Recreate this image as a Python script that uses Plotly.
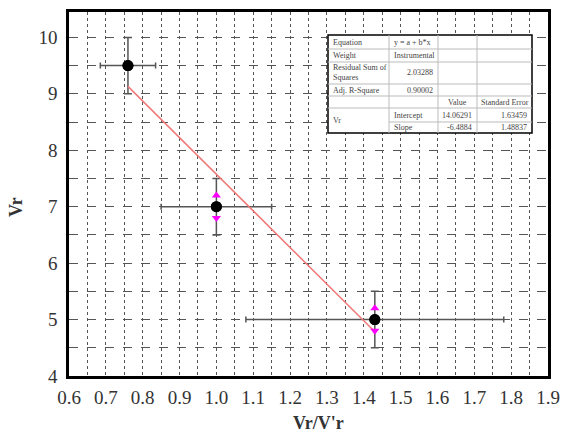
import plotly.graph_objects as go

# ---- data ----
x_vals = [0.76, 1.00, 1.43]
y_vals = [9.5, 7.0, 5.0]
x_err = [0.075, 0.15, 0.35]
y_err = [0.5, 0.5, 0.5]

intercept = 14.06291
slope = -6.4884
fit_x = [0.76, 1.43]

arrow_up_x = [1.00, 1.43]
arrow_up_y = [7.2, 5.2]
arrow_dn_x = [1.00, 1.43]
arrow_dn_y = [6.8, 4.8]

x_ticks = [0.6, 0.7, 0.8, 0.9, 1.0, 1.1, 1.2, 1.3, 1.4, 1.5, 1.6, 1.7, 1.8, 1.9]
y_ticks = [4, 5, 6, 7, 8, 9, 10]

table_rows = [
    ["Equation", "y = a + b*x", "", ""],
    ["Weight", "Instrumental", "", ""],
    ["Residual Sum of<br>Squares", "2.03288", "", ""],
    ["Adj. R-Square", "0.90002", "", ""],
    ["", "", "Value", "Standard Error"],
    ["Vr", "Intercept", "14.06291", "1.63459"],
    ["", "Slope", "-6.4884", "1.48837"],
]

W, H = 579, 437
L, R, T, B = 69, 548, 12, 376

fig = go.Figure()

fig.add_trace(go.Scatter(
    x=x_vals, y=y_vals, mode="markers",
    marker=dict(color="black", size=11),
    error_x=dict(type="data", array=x_err, color="#555555", thickness=1.5, width=3),
    error_y=dict(type="data", array=y_err, color="#555555", thickness=1.5, width=4),
    showlegend=False,
))

fit_y = [intercept + slope * v for v in fit_x]
fig.add_trace(go.Scatter(x=fit_x, y=fit_y, mode="lines",
                         line=dict(color="#f07878", width=1.5), showlegend=False))

fig.add_trace(go.Scatter(x=arrow_up_x, y=arrow_up_y, mode="markers",
                         marker=dict(symbol="triangle-up", color="#ff00ff", size=8),
                         showlegend=False))
fig.add_trace(go.Scatter(x=arrow_dn_x, y=arrow_dn_y, mode="markers",
                         marker=dict(symbol="triangle-down", color="#ff00ff", size=8),
                         showlegend=False))
fig.add_trace(go.Scatter(x=x_vals, y=y_vals, mode="markers",
                         marker=dict(color="black", size=11), showlegend=False))

# ---- table (pixel positions -> paper) ----
def px(xp):
    return (xp - L) / (R - L)

def py(yp):
    return (B - yp) / (B - T)

cols = [328, 389, 438, 477, 532]
rows = [35, 49, 62, 84, 96, 108, 122, 133]

shapes = []
shapes.append(dict(type="rect", xref="paper", yref="paper",
                   x0=px(cols[0]), x1=px(cols[-1]), y0=py(rows[-1]), y1=py(rows[0]),
                   fillcolor="white", line=dict(color="black", width=1.5), layer="above"))
for i, r in enumerate(rows[1:-1], start=1):
    x0 = cols[1] if i == 6 else cols[0]
    shapes.append(dict(type="line", xref="paper", yref="paper",
                       x0=px(x0), x1=px(cols[-1]), y0=py(r), y1=py(r),
                       line=dict(color="#bbbbbb", width=1), layer="above"))
for c in cols[1:-1]:
    shapes.append(dict(type="line", xref="paper", yref="paper",
                       x0=px(c), x1=px(c), y0=py(rows[-1]), y1=py(rows[0]),
                       line=dict(color="#bbbbbb", width=1), layer="above"))

annotations = []
tfont = dict(family="Liberation Serif", size=8, color="#444444")
for ri, row in enumerate(table_rows):
    yc = (rows[ri] + rows[ri + 1]) / 2
    for ci, txt in enumerate(row):
        if not txt:
            continue
        cx0, cx1 = cols[ci], cols[ci + 1]
        numeric = txt.replace(".", "").replace("-", "").isdigit()
        yc_use = yc
        if ci == 0 or (ci == 1 and not numeric):
            xa, anchor = cx0 + 3, "left"
            if ci == 0 and ri == 5:
                yc_use = (rows[5] + rows[7]) / 2
        elif numeric:
            xa, anchor = cx1 - 3, "right"
        else:
            xa, anchor = (cx0 + cx1) / 2, "center"
        annotations.append(dict(xref="paper", yref="paper", x=px(xa), y=py(yc_use),
                                text=txt, showarrow=False, xanchor=anchor, yanchor="middle",
                                align="left", font=tfont))

# axis titles
tfont_title = dict(family="Liberation Serif", size=18, color="#333333")
annotations.append(dict(xref="paper", yref="paper", x=px(318), y=py(423),
                        text="<b>Vr/V'r</b>", showarrow=False, xanchor="center",
                        yanchor="middle", font=tfont_title))
annotations.append(dict(xref="paper", yref="paper", x=px(16), y=py(207),
                        text="<b>Vr</b>", showarrow=False, xanchor="center",
                        yanchor="middle", textangle=-90, font=tfont_title))

fig.update_layout(
    width=W, height=H,
    margin=dict(l=L, r=W - R, t=T, b=H - B),
    paper_bgcolor="white", plot_bgcolor="white",
    shapes=shapes, annotations=annotations,
    font=dict(family="Liberation Serif", color="#333333"),
    xaxis=dict(range=[0.6, 1.9], tickvals=x_ticks, ticktext=[f"{v:.1f}" for v in x_ticks],
               showgrid=True, gridcolor="#555555", griddash="dot", gridwidth=1,
               minor=dict(dtick=0.05, tick0=0.6, showgrid=True, gridcolor="#555555",
                          griddash="dot", gridwidth=1),
               showline=True, linecolor="black", linewidth=2.5, mirror=True,
               ticks="", zeroline=False, ticklabelstandoff=2, automargin=False,
               tickfont=dict(family="Liberation Serif", size=19, color="#333333")),
    yaxis=dict(range=[4, 10.45], tickvals=y_ticks,
               showgrid=True, gridcolor="#555555", griddash="dash", gridwidth=1,
               minor=dict(dtick=0.5, tick0=4, showgrid=True, gridcolor="#555555",
                          griddash="dash", gridwidth=1),
               showline=True, linecolor="black", linewidth=2.5, mirror=True,
               ticks="", zeroline=False, ticklabelstandoff=5, automargin=False,
               tickfont=dict(family="Liberation Serif", size=19, color="#333333")),
)

fig.write_html("out.html", config={"displayModeBar": False},
               post_script="document.body.style.margin='0';document.body.style.padding='0';")
